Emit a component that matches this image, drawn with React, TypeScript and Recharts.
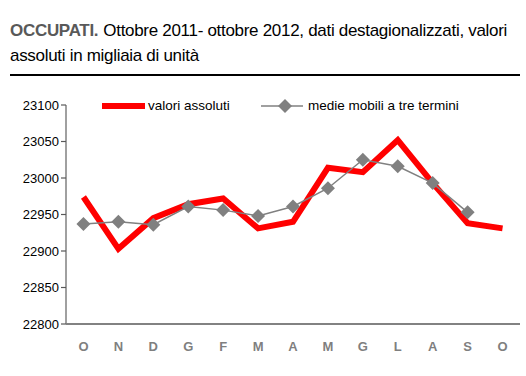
import { LineChart, Line, XAxis, YAxis } from 'recharts'

const months = ['O', 'N', 'D', 'G', 'F', 'M', 'A', 'M', 'G', 'L', 'A', 'S', 'O']
const valoriAssoluti = [22974, 22903, 22945, 22964, 22972, 22931, 22940, 23014, 23008, 23052, 22993, 22938, 22931]
const medieMobili = [22937, 22940, 22936, 22961, 22956, 22948, 22961, 22986, 23025, 23016, 22993, 22953, null]
const yTicks = [22800, 22850, 22900, 22950, 23000, 23050, 23100]

const chartData = months.map((m, i) => ({
  key: i,
  month: m,
  valori: valoriAssoluti[i],
  medie: medieMobili[i],
}))

const font = "'Liberation Sans', Arial, sans-serif"
const titleFont = "'Liberation Sans Narrow', 'Liberation Sans', Arial, sans-serif"

const Diamond = (props: any) => {
  const { cx, cy } = props
  if (cx == null || cy == null) return null
  const r = 7
  return (
    <polygon
      points={`${cx},${cy - r} ${cx + r},${cy} ${cx},${cy + r} ${cx - r},${cy}`}
      fill="#808080"
      stroke="none"
    />
  )
}

// legend drawn as an overlay so it doesn't push the plot area down
const LegendBox = () => (
  <div style={{ position: 'absolute', left: 95, top: 96, width: 420, height: 20, fontFamily: font, fontSize: 13.5, color: '#000' }}>
    <svg width={420} height={20} style={{ position: 'absolute', left: 0, top: 0 }}>
      <line x1={7} y1={10} x2={50} y2={10} stroke="#ff0000" strokeWidth={6} />
      <line x1={166} y1={10} x2={208} y2={10} stroke="#808080" strokeWidth={1.5} />
      <polygon points="190,3 197,10 190,17 183,10" fill="#808080" />
    </svg>
    <span style={{ position: 'absolute', left: 53, top: 2 }}>valori assoluti</span>
    <span style={{ position: 'absolute', left: 213, top: 2 }}>medie mobili a tre termini</span>
  </div>
)

const XTick = (props: any) => {
  const { x, y, payload } = props
  return (
    <text x={x} y={y + 19} textAnchor="middle" fill="#7f7f7f" fontWeight="bold" fontSize={13} fontFamily={font}>
      {months[payload.value]}
    </text>
  )
}

export default function App() {
  return (
    <div style={{ position: 'relative', width: 526, height: 376, background: '#fff', fontFamily: font }}>
      <style>{'body{margin:0}'}</style>
      <div
        style={{
          position: 'absolute',
          left: 10,
          top: 18,
          width: 516,
          fontSize: 17,
          lineHeight: '25px',
          color: '#000',
          fontFamily: titleFont,
          letterSpacing: -0.3,
          whiteSpace: 'nowrap',
        }}
      >
        <div>
          <span style={{ fontWeight: 'bold', color: '#595959', marginRight: 5 }}>OCCUPATI.</span>
          <span>Ottobre 2011- ottobre 2012, dati destagionalizzati, valori</span>
        </div>
        <div>assoluti in migliaia di unità</div>
      </div>
      <div style={{ position: 'absolute', left: 10, top: 74, width: 510, height: 2, background: '#000' }} />
      <div style={{ position: 'absolute', left: 0, top: 0 }}>
        <LineChart
          width={526}
          height={376}
          data={chartData}
          margin={{ top: 105, right: 6, bottom: 22, left: 0 }}
        >
          <XAxis
            dataKey="key"
            scale="band"
            tick={<XTick />}
            tickLine={false}
            axisLine={{ stroke: '#595959', strokeWidth: 1.5 }}
            height={30}
            interval={0}
          />
          <YAxis
            domain={[22800, 23100]}
            ticks={yTicks}
            width={66}
            tickLine={{ stroke: '#595959', strokeWidth: 1.2 }}
            tickSize={5}
            axisLine={{ stroke: '#808080', strokeWidth: 1.5 }}
            tick={{ fill: '#000', fontSize: 13, fontFamily: font }}
            interval={0}
          />
          <Line
            type="linear"
            dataKey="valori"
            stroke="#ff0000"
            strokeWidth={6}
            dot={false}
            activeDot={false}
            isAnimationActive={false}
          />
          <Line
            type="linear"
            dataKey="medie"
            stroke="#808080"
            strokeWidth={1.5}
            dot={<Diamond />}
            activeDot={false}
            isAnimationActive={false}
          />
        </LineChart>
      </div>
      <LegendBox />
    </div>
  )
}
